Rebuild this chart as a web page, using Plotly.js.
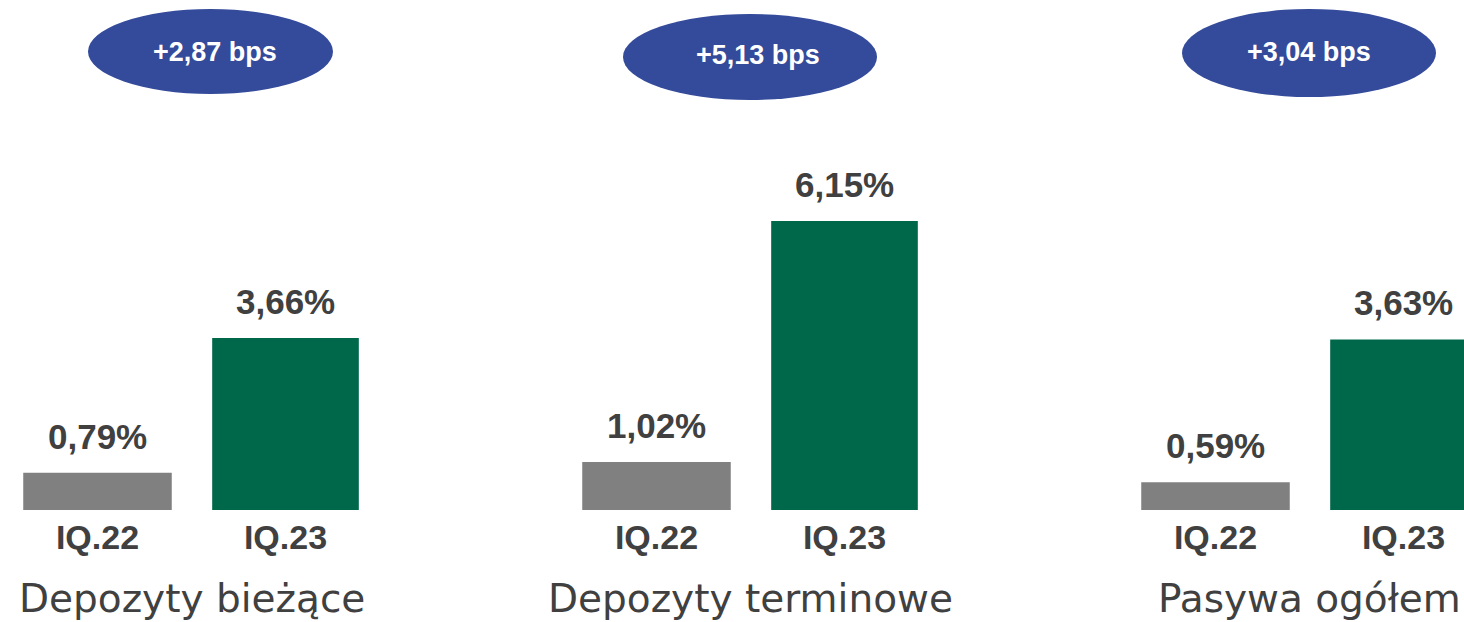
<!DOCTYPE html>
<html>
<head>
<meta charset="utf-8">
<script src="https://cdn.plot.ly/plotly-3.0.1.min.js"></script>
<style>html,body{margin:0;padding:0;background:#fff;}#chart{width:1464px;height:622px;}</style>
</head>
<body>
<div id="chart"></div>
<script>
const categories = ['IQ.22', 'IQ.23'];
const groups = ['Depozyty bieżące', 'Depozyty terminowe', 'Pasywa ogółem'];
const iq22 = [0.79, 1.02, 0.59];
const iq23 = [3.66, 6.15, 3.63];
const changes = ['+2,87 bps', '+5,13 bps', '+3,04 bps'];

const W = 1464, H = 622;
const GREY = '#808080', GREEN = '#00684A', BLUE = '#344A9A', TXT = '#404040';
const BOLD = 'Liberation Sans, Arial, sans-serif';
const fmt = v => v.toFixed(2).replace('.', ',') + '%';

const axisNames = ['x', 'x2', 'x3'];
const domains = [[3.5 / W, 379.5 / W], [562.5 / W, 938.5 / W], [1121.5 / W, 1]];
const ranges = [[-0.5, 1.5], [-0.5, 1.5], [-0.5, -0.5 + 342.5 / 188]];
const ellipses = [[88, 333, 9, 94], [623, 877, 14, 100], [1182, 1436, 9, 97]];
const ellText = [[214.5, 52], [758, 55], [1309, 51.5]];

const traces = [];
const annotations = [];
const shapes = [];
const layout = {
  width: W, height: H,
  margin: {l: 0, r: 0, t: 0, b: 0},
  paper_bgcolor: '#fff', plot_bgcolor: '#fff',
  showlegend: false,
  yaxis: {domain: [112 / H, 1], range: [0, 510 / 47], visible: false, fixedrange: true},
};

groups.forEach((g, i) => {
  const xa = axisNames[i];
  const vals = [iq22[i], iq23[i]];
  traces.push({
    type: 'bar', x: categories, y: vals, xaxis: xa, yaxis: 'y',
    width: [0.79, 0.78],
    marker: {color: [GREY, GREEN], line: {width: 0}},
    hoverinfo: 'skip'
  });
  const key = i === 0 ? 'xaxis' : 'xaxis' + (i + 1);
  layout[key] = {
    domain: domains[i], range: ranges[i], anchor: 'y', type: 'category',
    showgrid: false, zeroline: false, showline: false,
    ticks: '', ticklabelstandoff: 4,
    tickfont: {family: BOLD, size: 34, color: TXT, weight: 'bold'},
    fixedrange: true
  };
  vals.forEach((v, j) => {
    annotations.push({
      xref: xa, yref: 'y', x: categories[j], y: v,
      text: '<b>' + fmt(v) + '</b>', showarrow: false,
      yanchor: 'bottom', yshift: 15,
      font: {family: BOLD, size: 35, color: TXT}
    });
  });
  annotations.push({
    xref: xa, yref: 'paper', x: 0.5, y: (H - 598) / H, yanchor: 'middle',
    text: g, showarrow: false,
    font: {family: 'DejaVu Sans, sans-serif', size: 39, color: TXT}
  });
  const e = ellipses[i];
  shapes.push({
    type: 'circle', xref: 'paper', yref: 'paper',
    x0: e[0] / W, x1: e[1] / W, y0: (H - e[3]) / H, y1: (H - e[2]) / H,
    fillcolor: BLUE, line: {width: 0}
  });
  annotations.push({
    xref: 'paper', yref: 'paper', x: ellText[i][0] / W, y: (H - ellText[i][1]) / H,
    xanchor: 'center', yanchor: 'middle',
    text: '<b>' + changes[i] + '</b>', showarrow: false,
    font: {family: BOLD, size: 27, color: '#ffffff'}
  });
});

layout.annotations = annotations;
layout.shapes = shapes;
Plotly.newPlot('chart', traces, layout, {displayModeBar: false, staticPlot: true});
</script>
</body>
</html>
